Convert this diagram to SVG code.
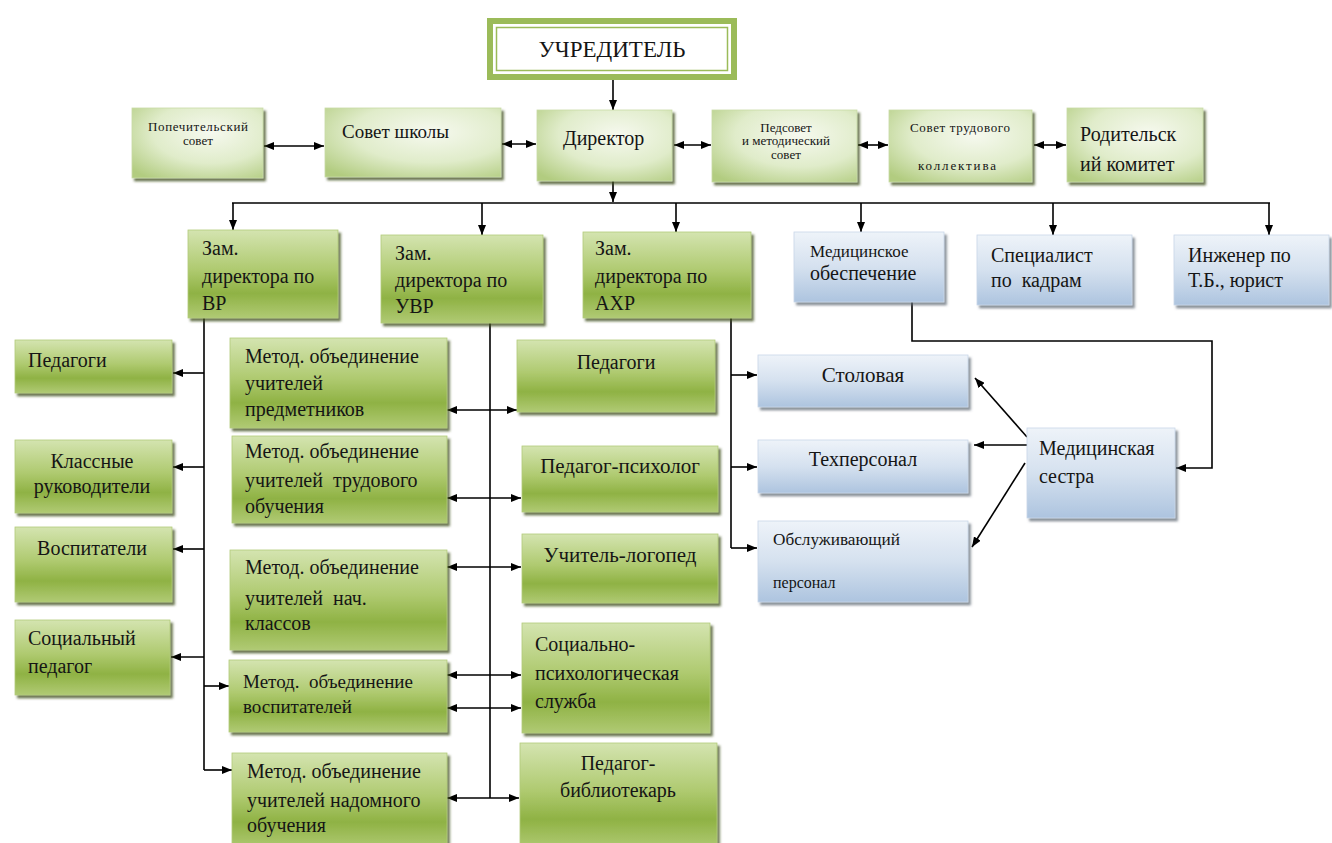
<svg xmlns="http://www.w3.org/2000/svg" width="1332" height="843" viewBox="0 0 1332 843" font-family="'Liberation Serif', 'DejaVu Serif', serif">
<defs>
<style>
text{font-family:'Liberation Serif','DejaVu Serif','Times New Roman',serif}
.t{fill:#151515;font-size:20px}
.s{font-size:13px}
.m{text-anchor:middle}
.gn{fill:url(#g);stroke:#b2ca7b;stroke-width:0.8;filter:url(#sh)}
.gp{fill:url(#gp);stroke:#c9dba6;stroke-width:0.8;filter:url(#sh)}
.bl{fill:url(#b);stroke:#c8d6e8;stroke-width:0.8;filter:url(#shb)}
.c line,.c polyline{stroke:#000;stroke-width:1.6;fill:none}
.e{marker-end:url(#ah)}
.be{marker-start:url(#ah);marker-end:url(#ah)}
</style>
<linearGradient id="g" x1="0" y1="0" x2="0" y2="1">
<stop offset="0" stop-color="#d4e4b0"/>
<stop offset="0.45" stop-color="#afca70"/>
<stop offset="0.72" stop-color="#8fb244"/>
<stop offset="1" stop-color="#b0ca74"/>
</linearGradient>
<radialGradient id="gp" cx="0.6" cy="0.35" r="0.8">
<stop offset="0" stop-color="#f6f9ef"/>
<stop offset="0.55" stop-color="#e0ecca"/>
<stop offset="1" stop-color="#b2cc80"/>
</radialGradient>
<linearGradient id="b" x1="0" y1="0" x2="0" y2="1">
<stop offset="0" stop-color="#eef3f9"/>
<stop offset="0.5" stop-color="#d5e1ef"/>
<stop offset="1" stop-color="#adc4df"/>
</linearGradient>
<filter id="sh" x="-5%" y="-5%" width="115%" height="125%">
<feDropShadow dx="2.5" dy="3" stdDeviation="1.2" flood-color="#3d4d1e" flood-opacity="0.75"/>
</filter>
<filter id="shb" x="-5%" y="-5%" width="115%" height="125%">
<feDropShadow dx="2.5" dy="3" stdDeviation="1.2" flood-color="#5b6672" flood-opacity="0.7"/>
</filter>
<marker id="ah" viewBox="0 0 10 8" refX="10" refY="4" markerWidth="10" markerHeight="8" markerUnits="userSpaceOnUse" orient="auto-start-reverse">
<path d="M0,0 L10,4 L0,8 z" fill="#000"/>
</marker>
</defs>
<rect width="1332" height="843" fill="#fff"/>

<g class="c" id="connectors">
<line class="e" x1="613" y1="80" x2="613" y2="110"/>
<line class="be" x1="264" y1="146" x2="324" y2="146"/>
<line class="be" x1="502" y1="144" x2="536" y2="144"/>
<line class="be" x1="674" y1="145" x2="711" y2="145"/>
<line class="be" x1="858" y1="145" x2="888" y2="145"/>
<line class="be" x1="1034" y1="145" x2="1066" y2="145"/>
<line class="e" x1="613" y1="181" x2="613" y2="202"/>
<line x1="232" y1="203" x2="1270" y2="203"/>
<line class="e" x1="233" y1="203" x2="233" y2="230"/>
<line class="e" x1="482" y1="203" x2="482" y2="235"/>
<line class="e" x1="676" y1="203" x2="676" y2="232"/>
<line class="e" x1="861" y1="203" x2="861" y2="232"/>
<line class="e" x1="1053" y1="203" x2="1053" y2="235"/>
<line class="e" x1="1269" y1="203" x2="1269" y2="235"/>
<line x1="204" y1="318" x2="204" y2="770"/>
<line class="e" x1="204" y1="373" x2="173" y2="373"/>
<line class="e" x1="204" y1="467" x2="173" y2="467"/>
<line class="e" x1="204" y1="549" x2="173" y2="549"/>
<line class="e" x1="204" y1="657" x2="171" y2="657"/>
<line class="e" x1="204" y1="686" x2="229" y2="686"/>
<line class="e" x1="204" y1="770" x2="232" y2="770"/>
<line x1="490" y1="323" x2="490" y2="798"/>
<line class="be" x1="447" y1="410" x2="517" y2="410"/>
<line class="be" x1="447" y1="498" x2="521" y2="498"/>
<line class="be" x1="447" y1="567" x2="521" y2="567"/>
<line class="be" x1="447" y1="675" x2="521" y2="675"/>
<line class="be" x1="447" y1="708" x2="521" y2="708"/>
<line class="be" x1="447" y1="798" x2="519" y2="798"/>
<line x1="731" y1="318" x2="731" y2="548"/>
<line class="e" x1="731" y1="375" x2="757" y2="375"/>
<line class="e" x1="731" y1="467" x2="757" y2="467"/>
<line class="e" x1="731" y1="548" x2="757" y2="548"/>
<line class="e" x1="1027" y1="437" x2="975" y2="378"/>
<line class="e" x1="1027" y1="445" x2="974" y2="445"/>
<line class="e" x1="1025" y1="463" x2="972" y2="547"/>
<polyline class="e" points="912,302 912,341 1212,341 1212,468 1176,468"/>
</g>

<g id="uchreditel">
<rect x="490" y="21" width="244" height="56" fill="#fff" stroke="#9bbb59" stroke-width="6"/>
<rect x="496.5" y="27.5" width="231" height="43" fill="none" stroke="#9bbb59" stroke-width="1.5"/>
<text class="t m" x="612" y="57" style="font-size:23px">УЧРЕДИТЕЛЬ</text>
</g>

<g id="popech">
<rect class="gp" x="132" y="108" width="131" height="70"/>
<text class="t s m" x="198" y="131" textLength="100" lengthAdjust="spacing">Попечительский</text>
<text class="t s m" x="198" y="145">совет</text>
</g>
<g id="sovet">
<rect class="gp" x="325" y="108" width="176" height="69"/>
<text class="t" x="342" y="138" style="font-size:19px">Совет школы</text>
</g>
<g id="direktor">
<rect class="gp" x="537" y="110" width="135" height="71"/>
<text class="t" x="563" y="145">Директор</text>
</g>
<g id="pedsovet">
<rect class="gp" x="712" y="110" width="145" height="72"/>
<text class="t s m" x="786" y="132">Педсовет</text>
<text class="t s m" x="786" y="145">и методический</text>
<text class="t s m" x="786" y="159">совет</text>
</g>
<g id="stk">
<rect class="gp" x="889" y="110" width="143" height="72"/>
<text class="t s m" x="960" y="132" textLength="100" lengthAdjust="spacing">Совет трудового</text>
<text class="t s m" x="957" y="170" textLength="78" lengthAdjust="spacing">коллектива</text>
</g>
<g id="roditel">
<rect class="gp" x="1067" y="108" width="136" height="74"/>
<text class="t" x="1080" y="141">Родительск</text>
<text class="t" x="1080" y="171">ий комитет</text>
</g>

<g id="zam-vr">
<rect class="gn" x="188" y="230" width="150" height="88"/>
<text class="t" x="202" y="255">Зам.</text>
<text class="t" x="202" y="283">директора по</text>
<text class="t" x="202" y="310">ВР</text>
</g>
<g id="zam-uvr">
<rect class="gn" x="381" y="235" width="162" height="88"/>
<text class="t" x="395" y="260">Зам.</text>
<text class="t" x="395" y="287">директора по</text>
<text class="t" x="395" y="313">УВР</text>
</g>
<g id="zam-ahr">
<rect class="gn" x="583" y="232" width="168" height="86"/>
<text class="t" x="595" y="255">Зам.</text>
<text class="t" x="595" y="283">директора по</text>
<text class="t" x="595" y="310">АХР</text>
</g>
<g id="med-ob">
<rect class="bl" x="794" y="232" width="150" height="70"/>
<text class="t" x="810" y="257" style="font-size:17px">Медицинское</text>
<text class="t" x="810" y="280">обеспечение</text>
</g>
<g id="spec">
<rect class="bl" x="977" y="235" width="155" height="70"/>
<text class="t" x="991" y="262">Специалист</text>
<text class="t" x="991" y="287" style="white-space:pre">по  кадрам</text>
</g>
<g id="ingener">
<rect class="bl" x="1174" y="235" width="155" height="70"/>
<text class="t" x="1188" y="262">Инженер по</text>
<text class="t" x="1188" y="287">Т.Б., юрист</text>
</g>

<g id="pedagogi-l">
<rect class="gn" x="15" y="340" width="157" height="53"/>
<text class="t" x="28" y="367">Педагоги</text>
</g>
<g id="klass">
<rect class="gn" x="15" y="440" width="157" height="73"/>
<text class="t m" x="92" y="468">Классные</text>
<text class="t m" x="92" y="493">руководители</text>
</g>
<g id="vosp">
<rect class="gn" x="15" y="527" width="157" height="75"/>
<text class="t m" x="92" y="555">Воспитатели</text>
</g>
<g id="socped">
<rect class="gn" x="15" y="620" width="155" height="75"/>
<text class="t" x="28" y="645">Социальный</text>
<text class="t" x="28" y="673">педагог</text>
</g>

<g id="mo-predm">
<rect class="gn" x="230" y="338" width="217" height="90"/>
<text class="t" x="245" y="363">Метод. объединение</text>
<text class="t" x="245" y="390">учителей</text>
<text class="t" x="245" y="416">предметников</text>
</g>
<g id="mo-trud">
<rect class="gn" x="232" y="436" width="215" height="87"/>
<text class="t" x="245" y="458">Метод. объединение</text>
<text class="t" x="245" y="487" style="white-space:pre">учителей  трудового</text>
<text class="t" x="245" y="513">обучения</text>
</g>
<g id="mo-nach">
<rect class="gn" x="230" y="550" width="217" height="100"/>
<text class="t" x="245" y="574">Метод. объединение</text>
<text class="t" x="245" y="605" style="white-space:pre">учителей  нач.</text>
<text class="t" x="245" y="630">классов</text>
</g>
<g id="mo-vosp">
<rect class="gn" x="229" y="660" width="218" height="72"/>
<text class="t" x="243" y="688" style="font-size:19px;white-space:pre">Метод.  объединение</text>
<text class="t" x="243" y="713" style="font-size:19px">воспитателей</text>
</g>
<g id="mo-nadom">
<rect class="gn" x="232" y="753" width="215" height="96"/>
<text class="t" x="247" y="778">Метод. объединение</text>
<text class="t" x="247" y="807">учителей надомного</text>
<text class="t" x="247" y="832">обучения</text>
</g>

<g id="pedagogi-r">
<rect class="gn" x="517" y="340" width="198" height="72"/>
<text class="t m" x="616" y="369">Педагоги</text>
</g>
<g id="psiholog">
<rect class="gn" x="522" y="446" width="196" height="66"/>
<text class="t m" x="620" y="473" style="font-size:21px">Педагог-психолог</text>
</g>
<g id="logoped">
<rect class="gn" x="522" y="534" width="196" height="69"/>
<text class="t m" x="620" y="562" style="font-size:21px">Учитель-логопед</text>
</g>
<g id="soc-psih">
<rect class="gn" x="522" y="623" width="188" height="110"/>
<text class="t" x="535" y="651">Социально-</text>
<text class="t" x="535" y="680">психологическая</text>
<text class="t" x="535" y="708">служба</text>
</g>
<g id="bibl">
<rect class="gn" x="520" y="743" width="197" height="106"/>
<text class="t m" x="618" y="770">Педагог-</text>
<text class="t m" x="618" y="797">библиотекарь</text>
</g>

<g id="stolovaya">
<rect class="bl" x="758" y="355" width="210" height="52"/>
<text class="t m" x="863" y="382" style="font-size:21px">Столовая</text>
</g>
<g id="tehpersonal">
<rect class="bl" x="758" y="440" width="210" height="53"/>
<text class="t m" x="863" y="466">Техперсонал</text>
</g>
<g id="obsl">
<rect class="bl" x="758" y="521" width="210" height="81"/>
<text class="t" x="773" y="545" style="font-size:16px" textLength="127" lengthAdjust="spacingAndGlyphs">Обслуживающий</text>
<text class="t" x="773" y="588" style="font-size:16px">персонал</text>
</g>
<g id="medsestra">
<rect class="bl" x="1027" y="428" width="148" height="90"/>
<text class="t" x="1039" y="455">Медицинская</text>
<text class="t" x="1039" y="483">сестра</text>
</g>
</svg>
